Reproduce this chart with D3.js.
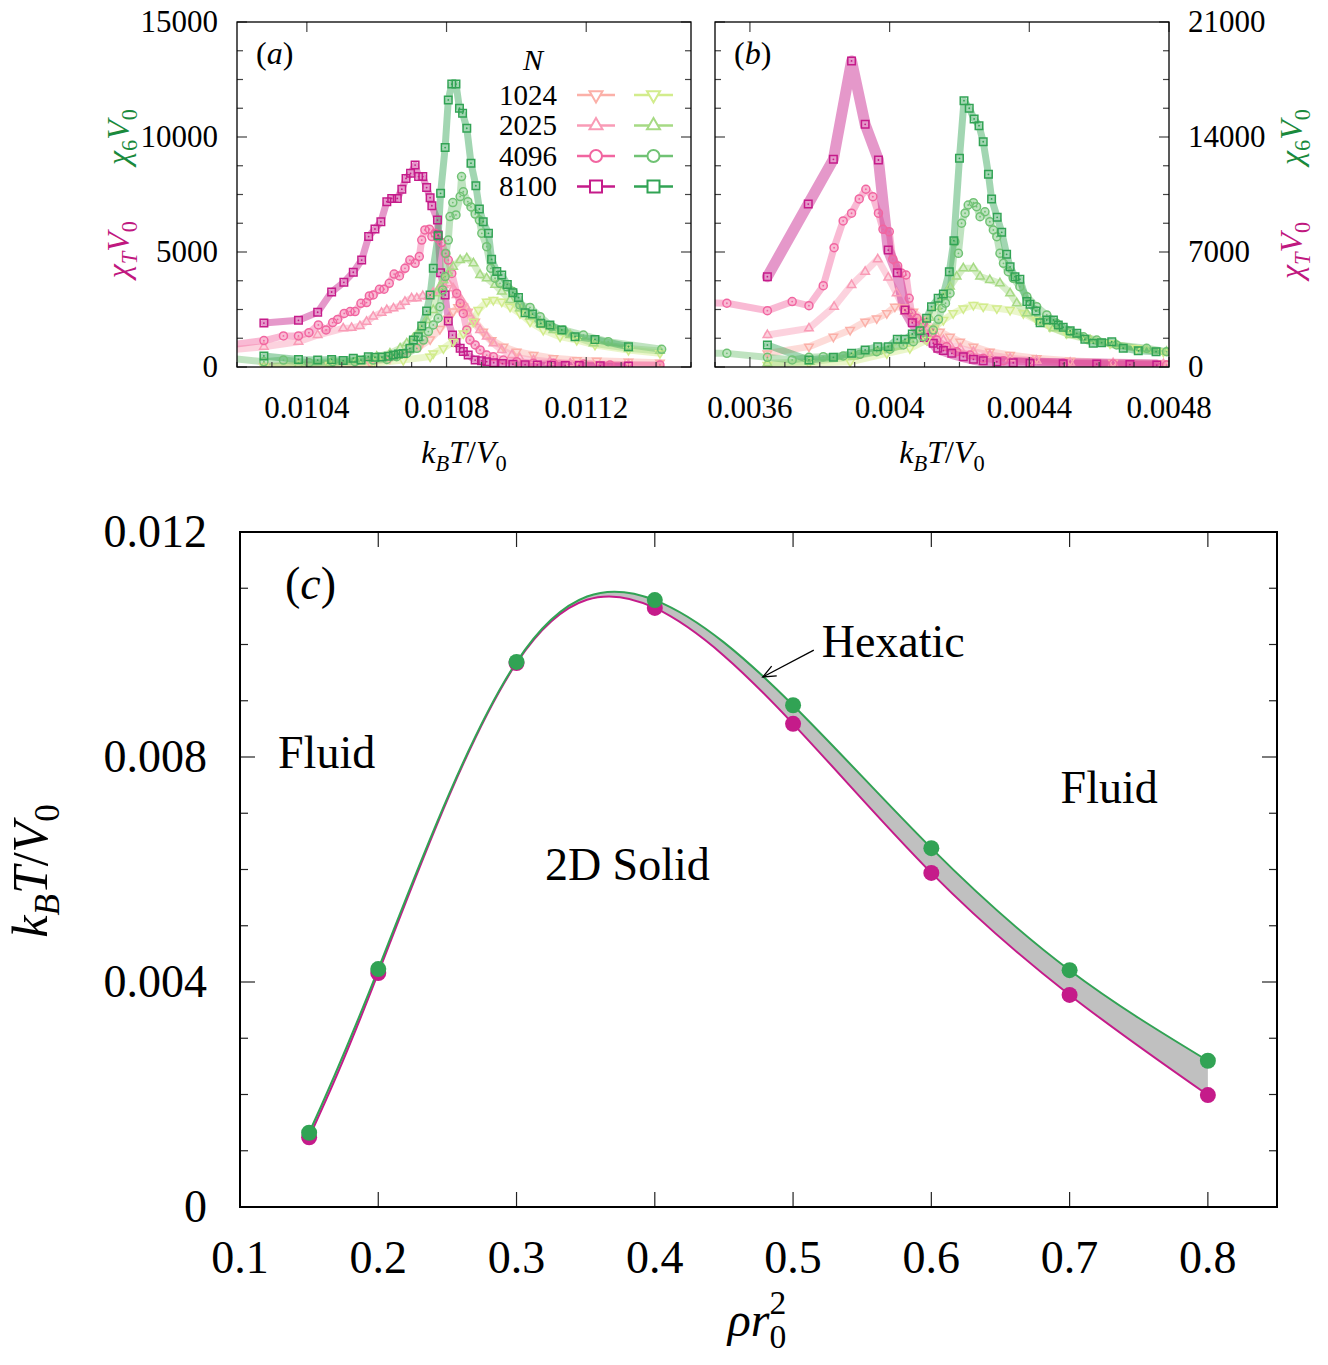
<!DOCTYPE html>
<html>
<head>
<meta charset="utf-8">
<script src="https://cdn.jsdelivr.net/npm/d3@7"></script>
<style>
  body { margin: 0; background: #fff; }
  svg text { font-family: "Liberation Serif", "Times New Roman", serif; fill: #000; }
</style>
</head>
<body>
<svg id="chart" width="1328" height="1365"></svg>
<script>
// ---- data: panel (a), chi vs k_B T / V0, rho r0^2 = 0.3 (pairs [T, chi V0]) ----
const sizesN = ['1024', '2025', '4096', '8100'];

const aChiT1024 = [[0.010277,30],[0.010466,60],[0.010581,190],[0.010638,380],[0.010681,600],[0.010724,900],[0.010753,1200],[0.010781,1650],[0.010804,2100],[0.010819,2410],[0.010833,2600],[0.010848,2620],[0.010862,2400],[0.010882,1970],[0.010905,1540],[0.010929,1170],[0.010963,880],[0.011001,670],[0.011049,520],[0.011106,380],[0.011173,300],[0.011230,270],[0.011321,230],[0.011411,190]];
const aChiT2025 = [[0.01015,700],[0.010277,880],[0.010376,1100],[0.010431,1390],[0.010504,1680],[0.010528,1700],[0.010552,1780],[0.010571,1970],[0.010590,2190],[0.010614,2360],[0.010629,2480],[0.010648,2550],[0.010667,2650],[0.010681,2840],[0.010700,2990],[0.010715,2990],[0.010732,3090],[0.010748,3060],[0.010762,3230],[0.010776,3350],[0.010791,3570],[0.010805,3640],[0.010819,3420],[0.010829,3130],[0.010843,2910],[0.010858,2550],[0.010862,2330],[0.010877,1970],[0.010896,1610],[0.010915,1320],[0.010934,1030],[0.010958,740],[0.010987,520],[0.011010,380],[0.011049,300],[0.011096,230],[0.011154,160],[0.011321,100],[0.011411,70]];
const aChiT4096 = [[0.01015,900],[0.010277,1150],[0.010333,1350],[0.010376,1350],[0.010406,1490],[0.010433,1830],[0.010455,1610],[0.010474,1930],[0.010488,2070],[0.010507,2330],[0.010524,2410],[0.010538,2410],[0.010555,2770],[0.010571,2800],[0.010579,3090],[0.010590,3130],[0.010608,3380],[0.010621,3380],[0.010636,3640],[0.010650,4040],[0.010665,3960],[0.010681,4290],[0.010695,4650],[0.010710,4510],[0.010722,4800],[0.010729,5520],[0.010738,5960],[0.010751,5990],[0.010758,5670],[0.010767,5810],[0.010776,5590],[0.010786,5410],[0.010796,4940],[0.010805,4650],[0.010815,4070],[0.010829,3200],[0.010839,2770],[0.010848,2330],[0.010858,1610],[0.010867,1170],[0.010882,960],[0.010896,740],[0.010915,520],[0.010934,450],[0.010963,300],[0.011001,230],[0.011049,160],[0.011106,160],[0.011192,130],[0.011268,90],[0.011411,90]];
const aChiT8100 = [[0.010277,1910],[0.010376,2030],[0.010431,2380],[0.010471,3260],[0.010506,3680],[0.010533,4120],[0.010557,4650],[0.010577,5670],[0.010595,6000],[0.010612,6320],[0.010629,7190],[0.010643,7330],[0.010659,7330],[0.010672,7730],[0.010684,8200],[0.010697,8420],[0.010710,8780],[0.010720,8280],[0.010732,8280],[0.010743,7800],[0.010753,7360],[0.010758,7010],[0.010774,6390],[0.010776,5740],[0.010783,4100],[0.010796,3130],[0.010805,2000],[0.010817,1390],[0.010827,1060],[0.010839,810],[0.010848,670],[0.010862,520],[0.010882,300],[0.010900,270],[0.010915,230],[0.010935,190],[0.010960,150],[0.010990,120],[0.011025,100],[0.011060,90],[0.011100,80],[0.011140,70],[0.011180,60],[0.011240,50],[0.011321,40]];

const aChi61024 = [[0.010277,15],[0.010466,90],[0.010590,160],[0.010676,300],[0.010753,450],[0.010762,590],[0.010791,810],[0.010819,1100],[0.010848,1460],[0.010877,1970],[0.010891,2480],[0.010915,2840],[0.010934,2910],[0.010958,2840],[0.010982,2620],[0.011010,2330],[0.011039,1970],[0.011077,1610],[0.011125,1320],[0.011173,1170],[0.011225,960],[0.011321,740],[0.011411,600]];
const aChi62025 = [[0.010277,15],[0.010376,90],[0.010466,160],[0.010543,300],[0.010600,450],[0.010638,590],[0.010667,810],[0.010686,1030],[0.010705,1250],[0.010724,1610],[0.010743,2040],[0.010762,2480],[0.010772,3200],[0.010781,3490],[0.010791,3780],[0.010805,4070],[0.010819,4360],[0.010839,4650],[0.010858,4730],[0.010877,4510],[0.010896,4000],[0.010915,3860],[0.010939,3570],[0.010958,3280],[0.010982,2910],[0.011010,2550],[0.011039,2190],[0.011068,1900],[0.011106,1610],[0.011154,1390],[0.011221,1030],[0.011321,810],[0.011411,700]];
const aChi64096 = [[0.01015,420],[0.010277,230],[0.010333,300],[0.010406,190],[0.010474,230],[0.010538,230],[0.010590,300],[0.010629,330],[0.010657,450],[0.010686,590],[0.010715,810],[0.010734,1170],[0.010748,1540],[0.010762,1830],[0.010776,2120],[0.010781,2620],[0.010789,3350],[0.010796,3930],[0.010798,4940],[0.010805,5520],[0.010810,6540],[0.010818,7150],[0.010827,6610],[0.010839,7410],[0.010843,8280],[0.010848,7620],[0.010861,7190],[0.010870,6960],[0.010882,6650],[0.010894,6390],[0.010901,5810],[0.010915,5230],[0.010927,4290],[0.010939,3860],[0.010953,3640],[0.010972,3490],[0.010990,3280],[0.011010,2700],[0.011039,2590],[0.011068,2190],[0.011101,1750],[0.011134,1610],[0.011192,1390],[0.011263,1100],[0.011416,770]];
const aChi68100 = [[0.010277,480],[0.010376,330],[0.010431,300],[0.010471,330],[0.010504,280],[0.010533,380],[0.010555,300],[0.010576,450],[0.010595,420],[0.010615,430],[0.010633,470],[0.010648,520],[0.010662,560],[0.010676,590],[0.010695,810],[0.010705,1170],[0.010719,1320],[0.010729,1780],[0.010743,2430],[0.010753,3130],[0.010762,4290],[0.010776,5710],[0.010783,7550],[0.010796,9540],[0.010805,11610],[0.010815,12300],[0.010827,12300],[0.010837,11250],[0.010846,11030],[0.010858,10380],[0.010870,8860],[0.010884,7880],[0.010894,6870],[0.010905,6320],[0.010920,5810],[0.010929,4680],[0.010944,4150],[0.010958,4000],[0.010974,3590],[0.010990,3230],[0.011006,3020],[0.011025,2360],[0.011046,2300],[0.011070,1900],[0.011096,1830],[0.011130,1610],[0.011168,1320],[0.011225,1200],[0.011321,880]];

// ---- data: panel (b), rho r0^2 = 0.7 ----
const bChiT1024 = [[0.003650,830],[0.003769,1240],[0.003839,1840],[0.003887,2250],[0.003930,2760],[0.003963,2960],[0.003992,3270],[0.004015,3670],[0.004039,3630],[0.004068,3370],[0.004096,2860],[0.004125,2350],[0.004144,2150],[0.004173,1840],[0.004202,1540],[0.004240,1240],[0.004287,930],[0.004345,730],[0.004421,530],[0.004517,380],[0.004640,260],[0.004784,230]];
const bChiT2025 = [[0.003650,1950],[0.003769,2350],[0.003841,3670],[0.003891,4990],[0.003930,5800],[0.003966,6560],[0.003996,5440],[0.004020,4490],[0.004044,3370],[0.004068,2860],[0.004096,2250],[0.004121,1840],[0.004154,1640],[0.004173,1340],[0.004202,1140],[0.004240,930],[0.004287,730],[0.004345,530],[0.004421,380],[0.004517,260],[0.004640,230],[0.004784,180]];
const bChiT4096 = [[0.00348,3900],[0.003534,3880],[0.003650,3430],[0.003721,3980],[0.003769,3730],[0.003810,4950],[0.003841,7260],[0.003867,8890],[0.003891,9360],[0.003913,10230],[0.003932,10820],[0.003952,10370],[0.003968,9360],[0.003981,8380],[0.003999,8240],[0.004009,6560],[0.004023,6150],[0.004035,5700],[0.004047,5600],[0.004056,4180],[0.004063,3270],[0.004078,2960],[0.004096,2660],[0.004121,2050],[0.004135,1640],[0.004163,1240],[0.004192,930],[0.004230,730],[0.004268,530],[0.004326,380],[0.004402,320],[0.004497,230],[0.004640,180],[0.004793,120]];
const bChiT8100 = [[0.003650,5500],[0.003767,9920],[0.003839,12640],[0.003891,18630],[0.003930,14770],[0.003968,12600],[0.003996,7120],[0.004022,5740],[0.004044,3470],[0.004065,2700],[0.004100,1800],[0.004125,1450],[0.004138,1140],[0.004154,1000],[0.004178,830],[0.004211,630],[0.004240,470],[0.004268,380],[0.004307,320],[0.004354,260],[0.004402,230],[0.004497,200],[0.004593,180],[0.004688,150],[0.004765,120]];

const bChi61024 = [[0.003650,120],[0.003769,230],[0.003887,320],[0.003992,830],[0.004058,1140],[0.004106,1640],[0.004125,2350],[0.004154,2860],[0.004182,3270],[0.004211,3570],[0.004240,3770],[0.004268,3670],[0.004307,3570],[0.004345,3470],[0.004383,3270],[0.004421,2860],[0.004459,2450],[0.004507,2050],[0.004564,1750],[0.004631,1440],[0.004707,1140],[0.004784,930]];
const bChi62025 = [[0.003650,230],[0.003772,320],[0.003896,630],[0.003963,930],[0.004020,1240],[0.004058,1640],[0.004090,2300],[0.004115,3000],[0.004135,3670],[0.004154,4280],[0.004173,4890],[0.004192,5500],[0.004211,6010],[0.004240,6010],[0.004259,5500],[0.004287,5300],[0.004316,5100],[0.004345,4490],[0.004364,3880],[0.004393,3270],[0.004431,2760],[0.004469,2350],[0.004517,1950],[0.004574,1640],[0.004650,1340],[0.004736,1040],[0.004793,930]];
const bChi64096 = [[0.00348,850],[0.003534,830],[0.003650,590],[0.003721,430],[0.003769,590],[0.003810,630],[0.003867,670],[0.003915,770],[0.003963,930],[0.004001,1080],[0.004039,1340],[0.004068,1540],[0.004096,1840],[0.004125,2250],[0.004140,2900],[0.004150,3570],[0.004160,3880],[0.004173,4490],[0.004187,7630],[0.004197,6920],[0.004206,8750],[0.004216,9360],[0.004225,9860],[0.004240,10000],[0.004249,9760],[0.004259,9150],[0.004273,9450],[0.004287,8840],[0.004297,8340],[0.004307,7930],[0.004316,6920],[0.004326,6310],[0.004340,5800],[0.004354,5400],[0.004373,4890],[0.004393,4280],[0.004421,3670],[0.004450,3170],[0.004478,2660],[0.004517,2150],[0.004555,1840],[0.004593,1640],[0.004650,1340],[0.004736,1140],[0.004793,930]];
const bChi68100 = [[0.003650,1340],[0.003769,430],[0.003839,590],[0.003891,830],[0.003930,1040],[0.003966,1240],[0.003996,1240],[0.004022,1690],[0.004044,1690],[0.004065,2010],[0.004087,2210],[0.004106,2960],[0.004120,3670],[0.004139,4180],[0.004154,4440],[0.004171,5800],[0.004184,7690],[0.004200,12700],[0.004213,16210],[0.004228,15750],[0.004242,15100],[0.004256,14690],[0.004268,13710],[0.004283,11730],[0.004292,10230],[0.004308,9110],[0.004321,8200],[0.004335,6860],[0.004345,6100],[0.004359,5500],[0.004373,5340],[0.004393,3980],[0.004402,3820],[0.004419,3410],[0.004431,2700],[0.004450,2860],[0.004469,2860],[0.004483,2560],[0.004497,2420],[0.004517,2210],[0.004536,2050],[0.004559,1690],[0.004583,1440],[0.004607,1480],[0.004636,1540],[0.004669,1140],[0.004712,990],[0.004763,930]];

// ---- data: panel (c), phase diagram ----
const rho = [0.15, 0.2, 0.3, 0.4, 0.5, 0.6, 0.7, 0.8];
const tPeakChi6 = [0.00132, 0.00423, 0.00969, 0.01079, 0.00892, 0.00638, 0.00421, 0.00260];
const tPeakChiT = [0.00124, 0.00416, 0.00967, 0.01065, 0.00859, 0.00594, 0.00377, 0.00199];

// tick labels
const aXTicks = [0.0104, 0.0108, 0.0112];
const aXTickLabels = ['0.0104', '0.0108', '0.0112'];
const aYTicks = [0, 5000, 10000, 15000];
const aYTickLabels = ['0', '5000', '10000', '15000'];
const bXTicks = [0.0036, 0.004, 0.0044, 0.0048];
const bXTickLabels = ['0.0036', '0.004', '0.0044', '0.0048'];
const bYTicks = [0, 7000, 14000, 21000];
const bYTickLabels = ['0', '7000', '14000', '21000'];
const cXTicks = [0.1, 0.2, 0.3, 0.4, 0.5, 0.6, 0.7, 0.8];
const cXTickLabels = ['0.1', '0.2', '0.3', '0.4', '0.5', '0.6', '0.7', '0.8'];
const cYTicks = [0, 0.004, 0.008, 0.012];
const cYTickLabels = ['0', '0.004', '0.008', '0.012'];

// styles
const pinkColors = ['#fbb0a8', '#f99bb6', '#f165a0', '#c51b8a'];
const greenColors = ['#d2ec8c', '#a6da84', '#70c274', '#31a354'];
const shapes = ['down', 'up', 'circle', 'square'];
const MAGENTA = '#c51b8a', GREEN = '#31a354';

const svg = d3.select('#chart');
const defs = svg.append('defs');

// math-ish text built from tspans
function addMath(text, parts, fs) {
    let shift = 0;
    parts.forEach(p => {
        const ts = text.append('tspan').text(p.t);
        if (p.it) ts.attr('font-style', 'italic');
        const target = p.sub ? 0.24 * fs : (p.sup ? -0.45 * fs : 0);
        const dy = target - shift;
        shift = target;
        if (dy) ts.attr('dy', dy);
        if (p.sub || p.sup) ts.attr('font-size', fs * 0.7);
        if (p.dx) ts.attr('dx', p.dx * fs);
    });
    return text;
}
const kBTV0 = [{t: 'k', it: true}, {t: 'B', it: true, sub: true}, {t: 'T', it: true}, {t: '/'}, {t: 'V', it: true}, {t: '0', sub: true}];
const chi6V0 = [{t: 'χ', it: true}, {t: '6', sub: true}, {t: 'V', it: true}, {t: '0', sub: true}];
const chiTV0 = [{t: 'χ', it: true}, {t: 'T', it: true, sub: true}, {t: 'V', it: true}, {t: '0', sub: true}];

function markerPath(shape, s) {
    if (shape === 'square') return `M${-s / 2},${-s / 2}h${s}v${s}h${-s}Z`;
    if (shape === 'circle') {
        const r = s / 2;
        return `M${r},0A${r},${r} 0 1,1 ${-r},0A${r},${r} 0 1,1 ${r},0Z`;
    }
    const h = s * 0.866;
    if (shape === 'up') return `M0,${-h * 2 / 3}L${s / 2},${h / 3}L${-s / 2},${h / 3}Z`;
    return `M0,${h * 2 / 3}L${s / 2},${-h / 3}L${-s / 2},${-h / 3}Z`;
}

function drawMarkers(g, pts, shape, color, s) {
    const m = g.append('g').selectAll('g').data(pts).join('g')
        .attr('transform', d => `translate(${d[0]},${d[1]})`);
    m.append('path')
        .attr('d', markerPath(shape, s))
        .attr('fill', 'none')
        .attr('stroke', color)
        .attr('stroke-width', 1.5);
    if (shape === 'square' || shape === 'circle') {
        m.append('circle').attr('r', 0.9).attr('fill', color);
    }
}

// ---- small panels (a) and (b) ----
function drawSmallPanel(cfg) {
    const {x, y, id} = cfg;
    const [x0, x1] = x.range();
    const [yb, yt] = y.range();
    const g = svg.append('g');

    defs.append('clipPath').attr('id', 'clip-' + id)
        .append('rect').attr('x', x0).attr('y', yt).attr('width', x1 - x0).attr('height', yb - yt);

    const plot = g.append('g').attr('clip-path', `url(#clip-${id})`);
    const line = d3.line().x(d => x(d[0])).y(d => y(d[1]));

    // error bands (thick translucent strokes)
    const groups = [
        {sets: cfg.chiT, colors: pinkColors, kind: 'T'},
        {sets: cfg.chi6, colors: greenColors, kind: '6'}
    ];
    groups.forEach(grp => {
        grp.sets.forEach((data, i) => {
            plot.append('path')
                .attr('d', line(data))
                .attr('fill', 'none')
                .attr('stroke', grp.colors[i])
                .attr('stroke-opacity', 0.45)
                .attr('stroke-width', (id === 'b' && grp.kind === 'T' && i === 3) ? 11 : 7)
                .attr('stroke-linejoin', 'round')
                .attr('stroke-linecap', 'round');
        });
    });
    groups.forEach(grp => {
        grp.sets.forEach((data, i) => {
            const pts = data.map(d => [x(d[0]), y(d[1])]);
            drawMarkers(plot, pts, shapes[i], grp.colors[i], shapes[i] === 'circle' ? 8 : (shapes[i] === 'square' ? 7.5 : 8.5));
        });
    });

    // ticks
    const tickColor = '#444';
    const xMinor = x.ticks(13);
    xMinor.forEach(v => {
        const major = cfg.xTicks.some(t => Math.abs(t - v) < 1e-9);
        const px = x(v);
        g.append('line').attr('x1', px).attr('x2', px).attr('y1', yb).attr('y2', yb - (major ? 10 : 5))
            .attr('stroke', tickColor).attr('stroke-width', 1.2);
        if (major) {
            g.append('line').attr('x1', px).attr('x2', px).attr('y1', yt).attr('y2', yt + 10)
                .attr('stroke', tickColor).attr('stroke-width', 1.2);
        }
    });
    d3.range(0, y.domain()[1] + 1, cfg.yMinorStep).forEach(v => {
        const major = cfg.yTicks.includes(v);
        const py = y(v);
        const len = major ? 10 : 6;
        g.append('line').attr('x1', x0).attr('x2', x0 + len).attr('y1', py).attr('y2', py)
            .attr('stroke', tickColor).attr('stroke-width', 1.2);
        g.append('line').attr('x1', x1).attr('x2', x1 - len).attr('y1', py).attr('y2', py)
            .attr('stroke', tickColor).attr('stroke-width', 1.2);
    });

    // frame
    g.append('rect').attr('x', x0).attr('y', yt).attr('width', x1 - x0).attr('height', yb - yt)
        .attr('fill', 'none').attr('stroke', '#000').attr('stroke-width', 1.3);

    // tick labels
    cfg.xTicks.forEach((v, i) => {
        g.append('text').attr('x', x(v)).attr('y', yb + 51).attr('text-anchor', 'middle')
            .attr('font-size', 31).text(cfg.xTickLabels[i]);
    });
    cfg.yTicks.forEach((v, i) => {
        const left = cfg.ySide === 'left';
        g.append('text')
            .attr('x', left ? x0 - 19 : x1 + 19)
            .attr('y', y(v)).attr('dy', '0.33em')
            .attr('text-anchor', left ? 'end' : 'start')
            .attr('font-size', 31).text(cfg.yTickLabels[i]);
    });

    // axis title
    addMath(g.append('text').attr('x', (x0 + x1) / 2).attr('y', yb + 96)
        .attr('text-anchor', 'middle').attr('font-size', 32), kBTV0, 32);

    // panel letter
    g.append('text').attr('x', x0 + 19).attr('y', yt + 42).attr('font-size', 32)
        .call(t => {
            t.append('tspan').text('(');
            t.append('tspan').attr('font-style', 'italic').text(id);
            t.append('tspan').text(')');
        });

    // rotated chi labels
    const lx = cfg.ySide === 'left' ? x0 - 108 : x1 + 133;
    addMath(g.append('text').attr('transform', `translate(${lx},${y(cfg.chi6LabelAt)}) rotate(-90)`)
        .attr('text-anchor', 'middle').attr('font-size', 32).style('fill', '#1a8a3c'), chi6V0, 32);
    addMath(g.append('text').attr('transform', `translate(${lx},${y(cfg.chiTLabelAt)}) rotate(-90)`)
        .attr('text-anchor', 'middle').attr('font-size', 32).style('fill', '#c0187f'), chiTV0, 32);
    return g;
}

const xa = d3.scaleLinear().domain([0.0102, 0.0115]).range([237, 691]);
const ya = d3.scaleLinear().domain([0, 15000]).range([367, 22]);
drawSmallPanel({
    id: 'a', x: xa, y: ya,
    chiT: [aChiT1024, aChiT2025, aChiT4096, aChiT8100],
    chi6: [aChi61024, aChi62025, aChi64096, aChi68100],
    xTicks: aXTicks, xTickLabels: aXTickLabels,
    yTicks: aYTicks, yTickLabels: aYTickLabels, yMinorStep: 1250,
    ySide: 'left', chi6LabelAt: 10000, chiTLabelAt: 5100
});

const xb = d3.scaleLinear().domain([0.0035, 0.0048]).range([715, 1169]);
const yb = d3.scaleLinear().domain([0, 21000]).range([367, 22]);
drawSmallPanel({
    id: 'b', x: xb, y: yb,
    chiT: [bChiT1024, bChiT2025, bChiT4096, bChiT8100],
    chi6: [bChi61024, bChi62025, bChi64096, bChi68100],
    xTicks: bXTicks, xTickLabels: bXTickLabels,
    yTicks: bYTicks, yTickLabels: bYTickLabels, yMinorStep: 1750,
    ySide: 'right', chi6LabelAt: 14000, chiTLabelAt: 7100
});

// legend inside panel (a)
const legend = svg.append('g');
legend.append('text').attr('x', 533).attr('y', 70).attr('text-anchor', 'middle')
    .attr('font-size', 30).attr('font-style', 'italic').text('N');
sizesN.forEach((n, i) => {
    const ly = 95 + i * 30.5;
    legend.append('text').attr('x', 557).attr('y', ly).attr('dy', '0.34em')
        .attr('text-anchor', 'end').attr('font-size', 29).text(n);
    [[577, 615, pinkColors[i]], [634, 673, greenColors[i]]].forEach(([lx0, lx1, c]) => {
        legend.append('line').attr('x1', lx0).attr('x2', lx1).attr('y1', ly).attr('y2', ly)
            .attr('stroke', c).attr('stroke-width', 2.5);
        const s = shapes[i] === 'square' ? 12 : (shapes[i] === 'circle' ? 12 : 13);
        legend.append('path').attr('transform', `translate(${(lx0 + lx1) / 2},${ly})`)
            .attr('d', markerPath(shapes[i], s)).attr('fill', '#fff')
            .attr('stroke', c).attr('stroke-width', 2);
    });
});

// ---- panel (c): phase diagram ----
const xc = d3.scaleLinear().domain([0.1, 0.85]).range([240, 1277]);
const yc = d3.scaleLinear().domain([0, 0.012]).range([1207, 532]);
const gc = svg.append('g');

const hexBand = d3.area()
    .x((d, i) => xc(rho[i]))
    .y0((d, i) => yc(tPeakChiT[i]))
    .y1((d, i) => yc(tPeakChi6[i]))
    .curve(d3.curveNatural);
gc.append('path').attr('d', hexBand(rho)).attr('fill', '#c0c0c0');

const curve = vals => d3.line().x((d, i) => xc(rho[i])).y((d, i) => yc(vals[i])).curve(d3.curveNatural)(rho);
gc.append('path').attr('d', curve(tPeakChiT)).attr('fill', 'none').attr('stroke', MAGENTA).attr('stroke-width', 2);
gc.append('path').attr('d', curve(tPeakChi6)).attr('fill', 'none').attr('stroke', GREEN).attr('stroke-width', 2);

gc.append('g').selectAll('circle').data(rho).join('circle')
    .attr('cx', d => xc(d)).attr('cy', (d, i) => yc(tPeakChiT[i])).attr('r', 8).attr('fill', MAGENTA);
gc.append('g').selectAll('circle').data(rho).join('circle')
    .attr('cx', d => xc(d)).attr('cy', (d, i) => yc(tPeakChi6[i])).attr('r', 8).attr('fill', GREEN);

// ticks (c)
const [cx0, cx1] = xc.range();
const [cyb, cyt] = yc.range();
cXTicks.forEach(v => {
    const px = xc(v);
    gc.append('line').attr('x1', px).attr('x2', px).attr('y1', cyb).attr('y2', cyb - 15).attr('stroke', '#222').attr('stroke-width', 1.2);
    gc.append('line').attr('x1', px).attr('x2', px).attr('y1', cyt).attr('y2', cyt + 15).attr('stroke', '#222').attr('stroke-width', 1.2);
});
d3.range(0, 13).forEach(k => {
    const v = k * 0.001;
    const py = yc(v);
    const len = k % 4 === 0 ? 15 : 8;
    gc.append('line').attr('x1', cx0).attr('x2', cx0 + len).attr('y1', py).attr('y2', py).attr('stroke', '#222').attr('stroke-width', 1.2);
    gc.append('line').attr('x1', cx1).attr('x2', cx1 - len).attr('y1', py).attr('y2', py).attr('stroke', '#222').attr('stroke-width', 1.2);
});
gc.append('rect').attr('x', cx0).attr('y', cyt).attr('width', cx1 - cx0).attr('height', cyb - cyt)
    .attr('fill', 'none').attr('stroke', '#000').attr('stroke-width', 2);

cXTicks.forEach((v, i) => {
    gc.append('text').attr('x', xc(v)).attr('y', cyb + 66).attr('text-anchor', 'middle')
        .attr('font-size', 46).text(cXTickLabels[i]);
});
cYTicks.forEach((v, i) => {
    gc.append('text').attr('x', cx0 - 33).attr('y', yc(v)).attr('dy', '0.33em').attr('text-anchor', 'end')
        .attr('font-size', 46).text(cYTickLabels[i]);
});

// axis titles (c)
addMath(gc.append('text').attr('x', 757).attr('y', 1336).attr('text-anchor', 'middle').attr('font-size', 48),
    [{t: 'ρ', it: true}, {t: 'r', it: true}, {t: '0', sub: true}, {t: '2', sup: true, dx: -0.35}], 48);
addMath(gc.append('text').attr('transform', 'translate(47,871) rotate(-90)').attr('text-anchor', 'middle').attr('font-size', 50),
    kBTV0, 50);

// region labels (c)
const regionLabels = [
    {t: 'Fluid', x: 0.1275, y: 0.00780},
    {t: '2D Solid', x: 0.3205, y: 0.00581},
    {t: 'Fluid', x: 0.6935, y: 0.00718},
    {t: 'Hexatic', x: 0.5207, y: 0.00978}
];
regionLabels.forEach(l => {
    gc.append('text').attr('x', xc(l.x)).attr('y', yc(l.y)).attr('font-size', 46).text(l.t);
});
gc.append('text').attr('x', xc(0.1325)).attr('y', yc(0.01081)).attr('font-size', 46)
    .call(t => {
        t.append('tspan').text('(');
        t.append('tspan').attr('font-style', 'italic').text('c');
        t.append('tspan').text(')');
    });

// Hexatic arrow
const tail = [xc(0.515), yc(0.00990)], tip = [xc(0.4781), yc(0.009422)];
gc.append('line').attr('x1', tail[0]).attr('y1', tail[1]).attr('x2', tip[0]).attr('y2', tip[1])
    .attr('stroke', '#000').attr('stroke-width', 1.3);
const ang = Math.atan2(tip[1] - tail[1], tip[0] - tail[0]);
const headLen = 14, spread = 0.4;
gc.append('path')
    .attr('d', `M${tip[0] - headLen * Math.cos(ang - spread)},${tip[1] - headLen * Math.sin(ang - spread)}L${tip[0]},${tip[1]}L${tip[0] - headLen * Math.cos(ang + spread)},${tip[1] - headLen * Math.sin(ang + spread)}`)
    .attr('fill', 'none').attr('stroke', '#000').attr('stroke-width', 1.3);
</script>
</body>
</html>
